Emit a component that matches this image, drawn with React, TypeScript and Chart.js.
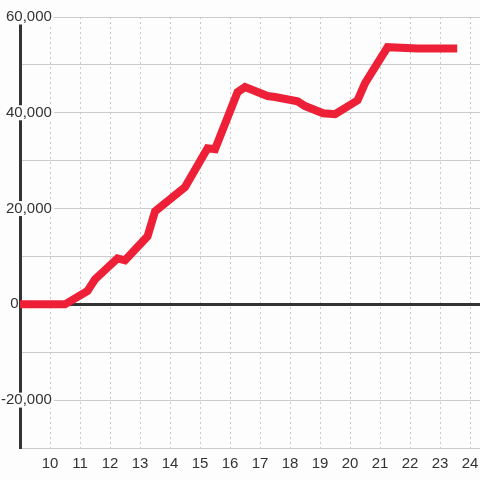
import React, { useEffect, useRef } from "react";
import { Chart, registerables } from "chart.js";

Chart.register(...registerables);

const xValues = [8.9, 10.5, 11.25, 11.5, 12.25, 12.5, 13.25, 13.5, 14.5, 15.25, 15.5, 16.25, 16.5, 17.25, 17.5, 18.25, 18.5, 19.1, 19.5, 20.25, 20.5, 21.25, 22.25, 23.57];
const yValues = [0, 0, 2800, 5200, 9600, 9200, 14200, 19400, 24500, 32600, 32400, 44300, 45400, 43500, 43300, 42400, 41400, 39900, 39700, 42600, 46200, 53700, 53400, 53400];
const xTickValues = [10, 11, 12, 13, 14, 15, 16, 17, 18, 19, 20, 21, 22, 23, 24];
const yLabelValues = [-20000, 0, 20000, 40000, 60000];

const BG = "#fcfdfc";
const FONT = "'Liberation Sans', Arial, sans-serif";

export default function App() {
  const ref = useRef<HTMLCanvasElement>(null);
  useEffect(() => {
    document.body.style.margin = "0";
    document.body.style.background = BG;
    const canvas = ref.current!;
    const chart = new Chart(canvas, {
      type: "line",
      data: {
        datasets: [
          {
            data: xValues.map((x, i) => ({ x, y: yValues[i] })),
            yAxisID: "y",
            borderColor: "#ee2037",
            borderWidth: 8,
            pointRadius: 0,
            tension: 0,
            fill: false,
            borderCapStyle: "butt",
            borderJoinStyle: "miter",
          },
        ],
      },
      options: {
        animation: false,
        responsive: false,
        maintainAspectRatio: false,
        layout: { padding: { top: 17, left: 0, right: 0, bottom: 0 } },
        plugins: { legend: { display: false }, tooltip: { enabled: false } },
        scales: {
          x: {
            type: "linear",
            min: 9,
            max: 24.33,
            afterBuildTicks: (s: any) => {
              s.ticks = xTickValues.map((v) => ({ value: v }));
            },
            afterFit: (s: any) => {
              s.paddingLeft = 0;
              s.paddingRight = 0;
            },
            grid: { color: "#c8c8c8", lineWidth: 1, drawTicks: false },
            border: { display: false, dash: [2, 3] },
            ticks: {
              padding: 7,
              color: "#333",
              font: { family: FONT, size: 15 },
              maxRotation: 0,
              autoSkip: false,
              callback: (v: any) => String(v),
            },
          },
          y: {
            type: "linear",
            position: "left",
            weight: 0,
            min: -30000,
            max: 60000,
            afterFit: (s: any) => {
              s.width = 20;
              s.paddingTop = 0;
              s.paddingBottom = 0;
            },
            grid: {
              drawTicks: false,
              color: (c: any) => (c.tick && c.tick.value === 0 ? "#333" : "#cccccc"),
              lineWidth: (c: any) => (c.tick && c.tick.value === 0 ? 3 : 1),
            },
            border: { display: false },
            ticks: { stepSize: 10000, display: false },
          },
          y2: {
            type: "linear",
            position: "left",
            weight: -1,
            z: 1,
            min: -30000,
            max: 60000,
            afterFit: (s: any) => {
              s.width = 0;
              s.paddingTop = 0;
              s.paddingBottom = 0;
            },
            grid: { display: false, drawTicks: false },
            border: { display: true, color: "#333", width: 3 },
            ticks: {
              stepSize: 10000,
              mirror: true,
              crossAlign: "far",
              padding: -19,
              color: "#333",
              font: { family: FONT, size: 15, lineHeight: 1 },
              showLabelBackdrop: (c: any) => c.tick && c.tick.value !== 0 && yLabelValues.includes(c.tick.value),
              backdropColor: BG,
              backdropPadding: { top: 0, bottom: 0, left: 2, right: 2 },
              callback: (v: any) => {
                if (!yLabelValues.includes(v)) return "";
                if (v === 0) return "0" + "\u00a0".repeat(8);
                return Number(v).toLocaleString("en-US");
              },
            },
          },
        },
      },
    });
    return () => chart.destroy();
  }, []);
  return (
    <div style={{ width: 480, height: 480, background: BG }}>
      <canvas ref={ref} width={480} height={480} style={{ display: "block", width: 480, height: 480 }} />
    </div>
  );
}
